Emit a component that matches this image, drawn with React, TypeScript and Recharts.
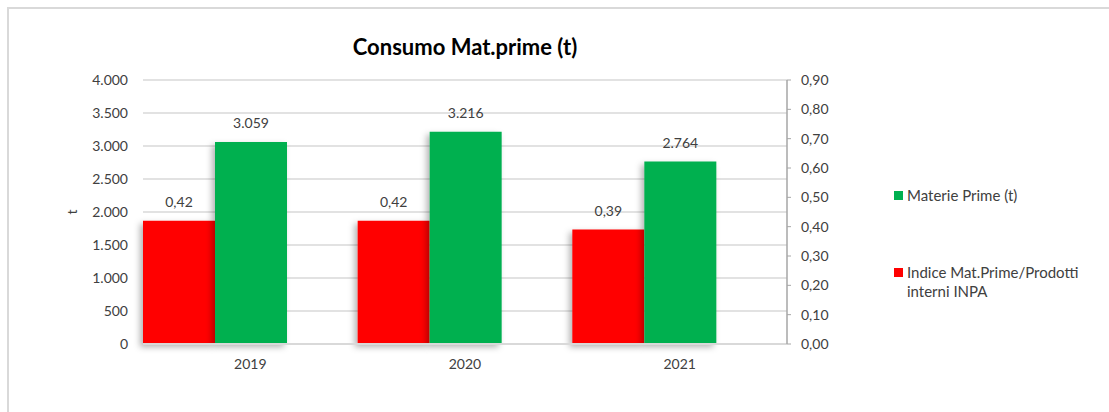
import * as React from "react";
import {
  BarChart,
  Bar,
  XAxis,
  YAxis,
  CartesianGrid,
  Legend,
  LabelList,
  Rectangle,
} from "recharts";

const anni = ["2019", "2020", "2021"];
const materiePrime = [3059, 3216, 2764];
const indiceMatPrime = [0.42, 0.42, 0.39];
const tickSinistra = [0, 500, 1000, 1500, 2000, 2500, 3000, 3500, 4000];
const tickDestra = [0, 0.1, 0.2, 0.3, 0.4, 0.5, 0.6, 0.7, 0.8, 0.9];

const legenda = [
  { nome: "Materie Prime (t)", colore: "#00B050" },
  { nome: "Indice Mat.Prime/Prodotti interni INPA", colore: "#FF0000" },
];

const dati = anni.map((anno, i) => ({
  anno,
  materie: materiePrime[i],
  indice: indiceMatPrime[i],
}));

const FONT = "Lato, 'Open Sans', sans-serif";
const migliaia = (v: number) => String(v).replace(/\B(?=(\d{3})+(?!\d))/g, ".");
const decimali = (v: number) => Number(v).toFixed(2).replace(".", ",");

const BarraOmbra = (props: any) => <Rectangle {...props} filter="url(#ombra)" />;

function Legenda() {
  return (
    <div style={{ fontFamily: FONT, fontSize: 15, color: "#404040", width: 210 }}>
      {legenda.map((l, i) => (
        <div
          key={l.nome}
          style={{ display: "flex", alignItems: "flex-start", marginTop: i === 0 ? 0 : 58 }}
        >
          <span
            style={{
              display: "inline-block",
              width: 9,
              height: 9,
              background: l.colore,
              marginTop: 5,
              marginRight: 4,
              flex: "none",
            }}
          />
          <span style={{ lineHeight: "19px" }}>{l.nome}</span>
        </div>
      ))}
    </div>
  );
}

export default function App() {
  return (
    <div
      style={{
        position: "absolute",
        left: 0,
        top: 0,
        width: 1109,
        height: 412,
        overflow: "hidden",
        background: "#fff",
      }}
    >
      <div
        style={{
          position: "absolute",
          left: 7,
          top: 7,
          width: 1110,
          height: 410,
          borderTop: "2px solid #d9d9d9",
          borderLeft: "2px solid #d9d9d9",
        }}
      />
      <div
        style={{
          position: "absolute",
          left: 265,
          width: 400,
          top: 33,
          textAlign: "center",
          fontFamily: FONT,
          fontWeight: 700,
          fontSize: 22,
          color: "#000",
          lineHeight: "28px",
        }}
      >
        Consumo Mat.prime (t)
      </div>
      <div style={{ position: "absolute", left: 0, top: 0 }}>
        <BarChart
          width={1109}
          height={412}
          data={dati}
          margin={{ top: 80, right: 262, bottom: 38, left: 0 }}
          barCategoryGap={0}
          barGap={0}
        >
          <defs>
            <filter id="ombra" x="-30%" y="-10%" width="160%" height="130%">
              <feDropShadow dx={-3} dy={3} stdDeviation={3} floodColor="#000" floodOpacity={0.3} />
            </filter>
          </defs>
          <CartesianGrid
            yAxisId="sx"
            vertical={false}
            stroke="#d9d9d9"
            strokeWidth={1.5}
          />
          <XAxis
            dataKey="anno"
            height={30}
            axisLine={{ stroke: "#d9d9d9", strokeWidth: 2 }}
            tickLine={false}
            tickSize={0}
            tickMargin={15}
            tick={{ fontFamily: FONT, fontSize: 14, fill: "#404040" }}
          />
          <YAxis
            yAxisId="sx"
            orientation="left"
            width={143}
            domain={[0, 4000]}
            ticks={tickSinistra}
            tickFormatter={migliaia}
            axisLine={false}
            tickLine={false}
            tickSize={0}
            tickMargin={15}
            tick={{ fontFamily: FONT, fontSize: 14, fill: "#404040" }}
            label={{
              value: "t",
              angle: -90,
              position: "insideLeft",
              offset: 72,
              style: { fontFamily: FONT, fontSize: 14, fill: "#404040", textAnchor: "middle" },
            }}
          />
          <YAxis
            yAxisId="dx"
            orientation="right"
            width={60}
            domain={[0, 0.9]}
            ticks={tickDestra}
            tickFormatter={decimali}
            axisLine={{ stroke: "#a6a6a6", strokeWidth: 1.5 }}
            tickLine={{ stroke: "#a6a6a6" }}
            tickSize={4}
            tickMargin={10}
            tick={{ fontFamily: FONT, fontSize: 14, fill: "#404040", textAnchor: "start" }}
          />
          <Legend
            layout="vertical"
            align="center"
            verticalAlign="middle"
            wrapperStyle={{ left: 894, top: 186, width: 215 }}
            content={() => <Legenda />}
          />
          <Bar
            yAxisId="dx"
            dataKey="indice"
            fill="#FF0000"
            shape={BarraOmbra}
            isAnimationActive={false}
          >
            <LabelList
              dataKey="indice"
              position="top"
              offset={14}
              formatter={(v: any) => decimali(Number(v))}
              style={{ fontFamily: FONT, fontSize: 14, fill: "#404040" }}
            />
          </Bar>
          <Bar
            yAxisId="sx"
            dataKey="materie"
            fill="#00B050"
            shape={BarraOmbra}
            isAnimationActive={false}
          >
            <LabelList
              dataKey="materie"
              position="top"
              offset={14}
              formatter={(v: any) => migliaia(Number(v))}
              style={{ fontFamily: FONT, fontSize: 14, fill: "#404040" }}
            />
          </Bar>
          <Bar
            yAxisId="sx"
            dataKey="vuoto"
            fill="transparent"
            legendType="none"
            isAnimationActive={false}
          />
        </BarChart>
      </div>
    </div>
  );
}
